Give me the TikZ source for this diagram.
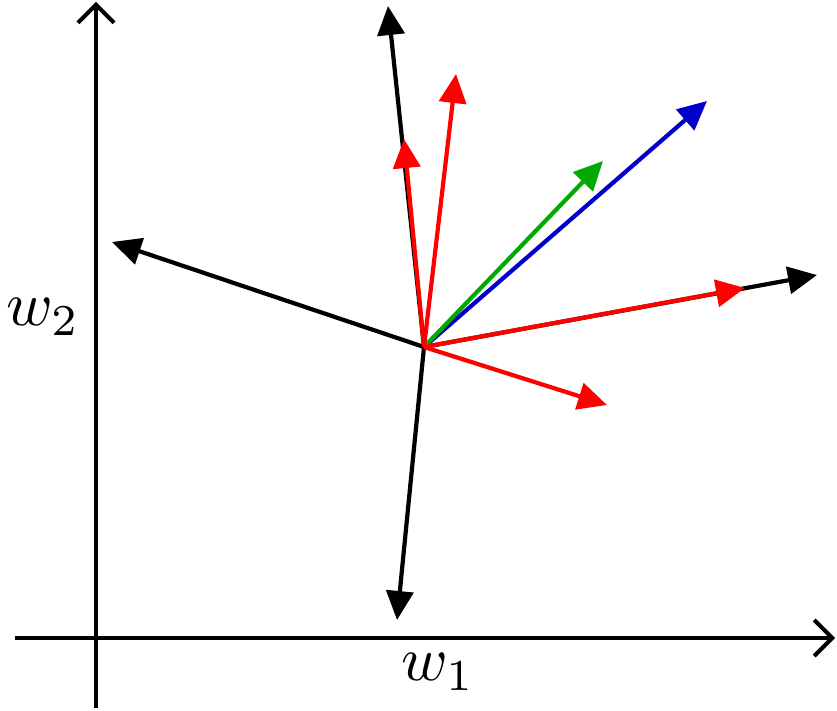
\documentclass[tikz,border=0pt]{standalone}
\usetikzlibrary{arrows.meta}
\definecolor{vred}{RGB}{255,0,0}
\definecolor{vblue}{RGB}{0,0,200}
\definecolor{vgreen}{RGB}{0,170,0}
\begin{document}
\begin{tikzpicture}[x=1pt,y=-1pt,
  vec/.style={line width=4.2pt,-{Triangle[length=29pt,width=27pt]}},
  axis/.style={line width=4pt,-{Straight Barb[length=18pt,width=36pt,line width=4pt]}},
  lbl/.style={scale=6.3,inner sep=0pt}]
\useasboundingbox (0,0) rectangle (837,711);
% axes
\coordinate (xs) at (15,638);
\coordinate (xe) at (835,638);
\coordinate (ys) at (96,708);
\coordinate (ye) at (96,2);
\draw[axis] (xs) -- (xe);
\draw[axis] (ys) -- (ye);
\node[lbl] (w1) at (438,672) {$w_1$};
\node[lbl] (w2) at (43,317) {$w_2$};
% center and tips
\coordinate (O) at (424,347);
\coordinate (bu) at (388,6);
\coordinate (bl) at (112,242);
\coordinate (bd) at (397,620);
\coordinate (br) at (817,275);
\coordinate (ru1) at (404,139);
\coordinate (ru2) at (456,74);
\coordinate (rr) at (745,288);
\coordinate (rd) at (607,405);
\coordinate (g) at (603,161);
\coordinate (b) at (707,101);
% black
\draw[vec,black] (O) -- (bu);
\draw[vec,black] (O) -- (bl);
\draw[vec,black] (O) -- (bd);
\draw[vec,black] (O) -- (br);
% colored
\draw[vec,vblue] (O) -- (b);
\draw[vec,vgreen] (O) -- (g);
\draw[vec,vred] (O) -- (ru1);
\draw[vec,vred] (O) -- (ru2);
\draw[vec,vred] (O) -- (rr);
\draw[vec,vred] (O) -- (rd);
\end{tikzpicture}
\end{document}
